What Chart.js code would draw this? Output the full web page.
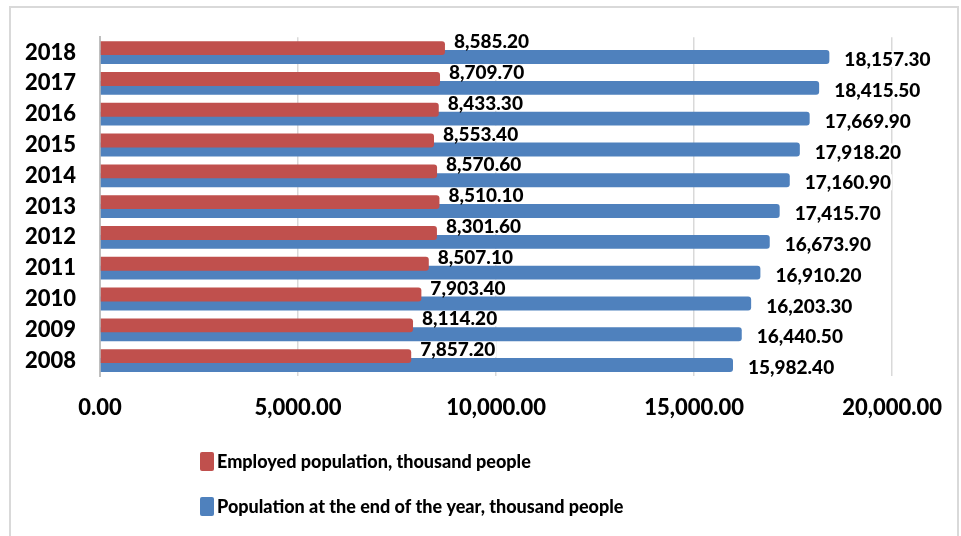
<!DOCTYPE html>
<html>
<head>
<meta charset="utf-8">
<script src="https://cdn.jsdelivr.net/npm/chart.js@4"></script>
<style>
html,body{margin:0;padding:0;background:#fff;}
#wrap{position:relative;width:961px;height:536px;}
</style>
</head>
<body>
<div id="wrap"><canvas id="c" width="961" height="536"></canvas></div>
<script>
// ---- data ----
const years = ['2018','2017','2016','2015','2014','2013','2012','2011','2010','2009','2008'];
// bar lengths as drawn
const employedBars   = [8709.7, 8585.2, 8553.4, 8433.3, 8510.1, 8570.6, 8507.1, 8301.6, 8114.2, 7903.4, 7857.2];
const populationBars = [18415.5, 18157.3, 17918.2, 17669.9, 17415.7, 17160.9, 16910.2, 16673.9, 16440.5, 16203.3, 15982.4];
// value labels as printed next to the bars
const employedLabels   = [8585.2, 8709.7, 8433.3, 8553.4, 8570.6, 8510.1, 8301.6, 8507.1, 7903.4, 8114.2, 7857.2];
const populationLabels = [18157.3, 18415.5, 17669.9, 17918.2, 17160.9, 17415.7, 16673.9, 16910.2, 16203.3, 16440.5, 15982.4];
const seriesNames = ['Employed population, thousand people', 'Population at the end of the year, thousand people'];
const xMin = 0, xMax = 20000, xStep = 5000;

const RED = '#C0504D', BLUE = '#4F81BD';
const FONT = 'Lato, "Open Sans", sans-serif';
const W = '900';
const LABEL_FONT = W + ' 19px ' + FONT;
const fmt = v => v.toLocaleString('en-US', {minimumFractionDigits: 2, maximumFractionDigits: 2});

const labelSets = [employedLabels, populationLabels];
const labelStyle = [{dx: 9, dy: -7}, {dx: 15, dy: 2}];

function labelBoxes(chart) {
  const ctx = chart.ctx;
  ctx.font = LABEL_FONT;
  const out = [];
  chart.data.datasets.forEach((ds, di) => {
    const meta = chart.getDatasetMeta(di);
    meta.data.forEach((bar, i) => {
      const txt = fmt(labelSets[di][i]);
      const w = ctx.measureText(txt).width;
      out.push({txt, x: bar.x + labelStyle[di].dx, y: bar.y + labelStyle[di].dy, w});
    });
  });
  return out;
}

const valueLabels = {
  id: 'valueLabels',
  beforeDatasetsDraw(chart) {
    const ctx = chart.ctx;
    ctx.save();
    ctx.fillStyle = '#ffffff';
    labelBoxes(chart).forEach(b => ctx.fillRect(b.x - 1, b.y - 8, b.w + 2, 16));
    ctx.restore();
  },
  afterDatasetsDraw(chart) {
    const ctx = chart.ctx;
    ctx.save();
    ctx.fillStyle = '#000';
    ctx.textAlign = 'left';
    ctx.textBaseline = 'middle';
    labelBoxes(chart).forEach(b => { ctx.font = LABEL_FONT; ctx.fillText(b.txt, b.x, b.y + 1); });
    ctx.restore();
  }
};

const frameAndLegend = {
  id: 'frameAndLegend',
  beforeDraw(chart) {
    const ctx = chart.ctx;
    ctx.save();
    ctx.fillStyle = '#fff';
    ctx.fillRect(0, 0, chart.width, chart.height);
    ctx.strokeStyle = '#d9d9d9';
    ctx.lineWidth = 2;
    ctx.strokeRect(10, 7, 948, 540);
    ctx.restore();
  },
  afterDraw(chart) {
    const ctx = chart.ctx;
    ctx.save();
    const rows = [462, 507];
    chart.data.datasets.forEach((ds, i) => {
      const cy = rows[i];
      ctx.fillStyle = ds.backgroundColor;
      ctx.beginPath();
      ctx.roundRect(200, cy - 10, 14, 19, 2);
      ctx.fill();
      ctx.fillStyle = '#000';
      ctx.font = W + ' 18px ' + FONT;
      ctx.textAlign = 'left';
      ctx.textBaseline = 'middle';
      ctx.fillText(ds.label, 217, cy);
    });
    ctx.restore();
  }
};

new Chart(document.getElementById('c'), {
  type: 'bar',
  data: {
    labels: years,
    datasets: [
      {label: seriesNames[0], data: employedBars, backgroundColor: RED, borderRadius: 3, borderSkipped: 'start',
       categoryPercentage: 0.58, barPercentage: 1.556},
      {label: seriesNames[1], data: populationBars, backgroundColor: BLUE, borderRadius: 3, borderSkipped: 'start',
       categoryPercentage: 0.58, barPercentage: 1.556}
    ]
  },
  options: {
    indexAxis: 'y',
    responsive: false,
    animation: false,
    devicePixelRatio: 1,
    layout: {padding: {left: 0, top: 35, right: 63, bottom: 0}},
    plugins: {legend: {display: false}, tooltip: {enabled: false}},
    scales: {
      x: {
        min: xMin, max: xMax,
        ticks: {stepSize: xStep, callback: v => fmt(v), color: '#000', font: {family: FONT, size: 22, weight: W}, padding: 19, maxRotation: 0},
        grid: {color: '#d9d9d9', lineWidth: 1.5, drawTicks: false},
        border: {display: false},
        afterFit(s) { s.height = 160; }
      },
      y: {
        ticks: {color: '#000', font: {family: FONT, size: 22, weight: W}, padding: 24},
        grid: {display: false, drawTicks: false},
        border: {display: true, color: '#bfbfbf', width: 2},
        afterFit(s) { s.width = 100; }
      }
    }
  },
  plugins: [frameAndLegend, valueLabels]
});
</script>
</body>
</html>
